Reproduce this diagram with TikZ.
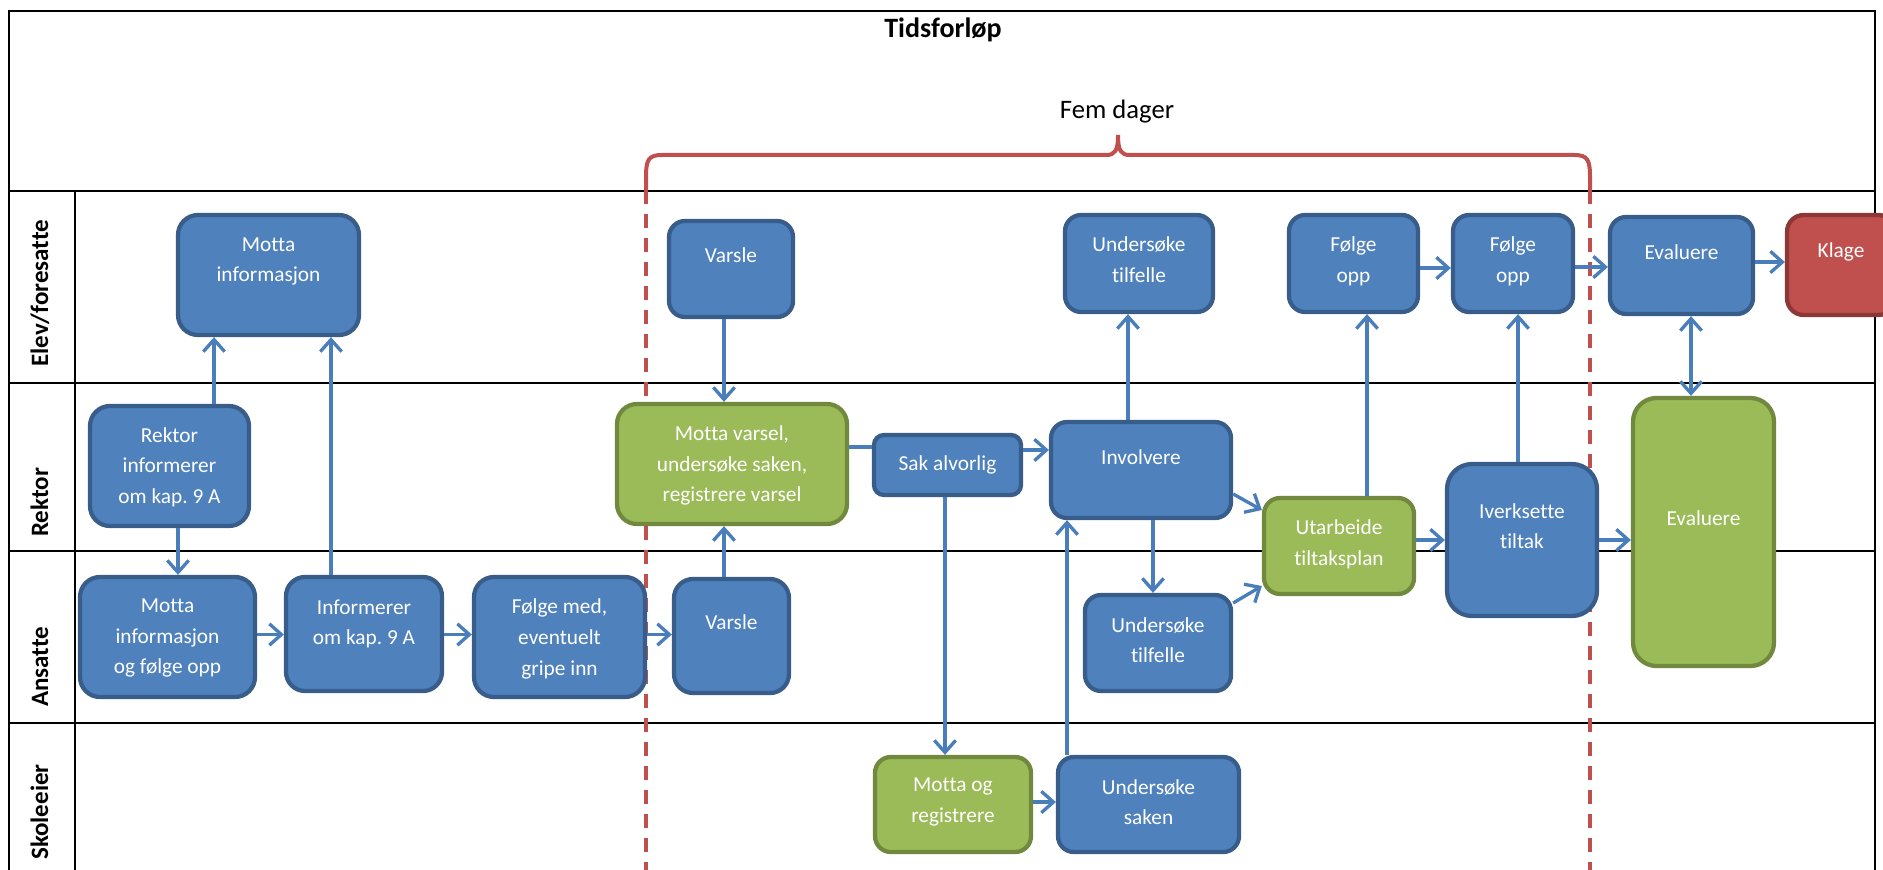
\documentclass[tikz,border=0pt]{standalone}
\usepackage{fontspec}
\setmainfont{Carlito}[Ligatures=NoCommon]
\frenchspacing
\usetikzlibrary{arrows.meta}
\definecolor{bfill}{HTML}{4F81BD}
\definecolor{bdraw}{HTML}{385D8A}
\definecolor{gfill}{HTML}{9BBB59}
\definecolor{gdraw}{HTML}{71893F}
\definecolor{rfill}{HTML}{C0504D}
\definecolor{rdraw}{HTML}{8C3836}
\definecolor{arrc}{HTML}{4A7EBB}
\definecolor{bracec}{HTML}{C0504D}
\tikzset{
  bluebox/.style={draw=bdraw, fill=bfill, line width=3.2pt, inner sep=0pt},
  greenbox/.style={draw=gdraw, fill=gfill, line width=3.2pt, inner sep=0pt},
  redbox/.style={draw=rdraw, fill=rfill, line width=3.2pt, inner sep=0pt},
  boxtxt/.style={text=white, align=center, inner sep=0pt, font=\fontsize{16}{23}\selectfont},
  conn/.style={draw=arrc, line width=2.5pt},
  arr/.style={conn, -{Straight Barb[length=9pt,width=16pt]}},
  darr/.style={conn, {Straight Barb[length=9pt,width=16pt]}-{Straight Barb[length=9pt,width=16pt]}},
  lane/.style={line width=1.8pt, draw=black},
  lanelbl/.style={rotate=90, anchor=base west, inner sep=0pt, font=\fontsize{18.75}{21}\selectfont\bfseries},
  dashline/.style={draw=bracec, line width=3pt, dash pattern=on 10.5pt off 7.5pt},
  bracestyle/.style={draw=bracec, line width=3pt},
}
\newcommand\mybox[8]{%
  \pgfmathsetmacro\mbW{(#5-#3-4)*0.75}%
  \pgfmathsetmacro\mbH{(#6-#4-4)*0.75}%
  \pgfmathsetmacro\mbX{(#3+#5)/2}%
  \pgfmathsetmacro\mbY{(#4+#6)/2}%
  \pgfmathsetmacro\mbR{min(\mbW,\mbH)/6}%
  \node[#2, minimum width=\mbW pt, minimum height=\mbH pt, rounded corners=\mbR pt] (#1) at (\mbX,\mbY) {};
  \node[boxtxt] (#1t) at (\mbX,#7) {#8};
}
\begin{document}
\begin{tikzpicture}[x=0.75pt,y=-0.75pt]
\useasboundingbox (0,0) rectangle (1883,870);
\clip (0,0) rectangle (1883,870);
% frame and lanes
\draw[lane] (9,880) -- (9,11) -- (1875,11) -- (1875,880);
\draw[lane] (9,191) -- (1875,191);
\draw[lane] (9,383) -- (1875,383);
\draw[lane] (9,551) -- (1875,551);
\draw[lane] (9,723) -- (1875,723);
\draw[lane] (75,191) -- (75,880);
% lane labels
\node[lanelbl] (l1) at (48,367) {Elev/foresatte};
\node[lanelbl] (l2) at (48,537) {Rektor};
\node[lanelbl] (l3) at (48,707) {Ansatte};
\node[lanelbl] (l4) at (48,860) {Skoleeier};
% titles
\node[font=\fontsize{21}{25}\selectfont\bfseries, anchor=base, inner sep=0pt] (title) at (943,38) {Tidsforløp};
\node[font=\fontsize{20}{24}\selectfont, anchor=base, inner sep=0pt] (fem) at (1117,119) {Fem dager};
% brace and dashed lines
\draw[dashline] (646,190) -- (646,880);
\draw[dashline] (1590,190) -- (1590,880);
\draw[bracestyle] (646,191) -- (646,178) .. controls (646,160) and (648,155) .. (662,155) -- (1106,155) .. controls (1115,155) and (1118,151) .. (1118,135) .. controls (1118,151) and (1121,155) .. (1130,155) -- (1574,155) .. controls (1588,155) and (1590,160) .. (1590,178) -- (1590,191);
% boxes
\mybox{mi}{bluebox}{176}{213}{361}{337}{261.5}{Motta\\informasjon}
\mybox{rk}{bluebox}{88}{404}{251}{528}{467}{Rektor\\informerer\\om kap. 9 A}
\mybox{mf}{bluebox}{78}{575}{257}{699}{638}{Motta\\informasjon\\og følge opp}
\mybox{ik}{bluebox}{284}{575}{444}{693}{624}{Informerer\\om kap. 9 A}
\mybox{fm}{bluebox}{472}{575}{647}{699}{639}{Følge med,\\eventuelt\\gripe inn}
\mybox{va}{bluebox}{667}{219}{795}{319}{255}{Varsle}
\mybox{mv}{greenbox}{615}{402}{849}{526}{465.5}{Motta varsel,\\undersøke saken,\\registrere varsel}
\mybox{vb}{bluebox}{672}{577}{791}{695}{622}{Varsle}
\mybox{sa}{bluebox}{872}{433}{1023}{497}{465}{Sak alvorlig}
\mybox{inv}{bluebox}{1049}{420}{1233}{520}{457}{Involvere}
\mybox{uta}{bluebox}{1063}{213}{1215}{314}{260}{Undersøke\\tilfelle}
\mybox{utb}{bluebox}{1083}{593}{1233}{693}{640}{Undersøke\\tilfelle}
\mybox{mr}{greenbox}{873}{755}{1033}{854}{802}{Motta og\\registrere}
\mybox{us}{bluebox}{1056}{755}{1241}{854}{802}{Undersøke\\saken}
\mybox{ua}{greenbox}{1262}{496}{1416}{596}{544}{Utarbeide\\tiltaksplan}
\mybox{foa}{bluebox}{1287}{213}{1420}{314}{261}{Følge\\opp}
\mybox{fob}{bluebox}{1451}{213}{1575}{314}{261}{Følge\\opp}
\mybox{iv}{bluebox}{1445}{462}{1599}{618}{526}{Iverksette\\tiltak}
\mybox{eva}{bluebox}{1608}{215}{1755}{316}{252}{Evaluere}
\mybox{kl}{redbox}{1785}{213}{1897}{317}{252}{Klage}
\mybox{evb}{greenbox}{1631}{396}{1776}{668}{518}{Evaluere}
% connectors
\draw[arr] (rk.north -| 214,0) -- (mi.south -| 214,0);
\draw[arr] (ik.north -| 331,0) -- (mi.south -| 331,0);
\draw[arr] (rk.south -| 178,0) -- (mf.north -| 178,0);
\draw[arr] (mf.east |- 0,634.5) -- (ik.west |- 0,634.5);
\draw[arr] (ik.east |- 0,634.5) -- (fm.west |- 0,634.5);
\draw[arr] (fm.east |- 0,634.5) -- (vb.west |- 0,634.5);
\draw[arr] (va.south -| 724,0) -- (mv.north -| 724,0);
\draw[arr] (vb.north -| 724,0) -- (mv.south -| 724,0);
\draw[conn] (mv.east |- 0,447) -- (sa.west |- 0,447);
\draw[arr] (sa.east |- 0,450) -- (inv.west |- 0,450);
\draw[arr] (sa.south -| 945,0) -- (mr.north -| 945,0);
\draw[arr] (mr.east |- 0,802) -- (us.west |- 0,802);
\draw[arr] (us.north -| 1067,0) -- (inv.south -| 1067,0);
\draw[arr] (inv.north -| 1128,0) -- (uta.south -| 1128,0);
\draw[arr] (inv.south -| 1153,0) -- (utb.north -| 1153,0);
\draw[arr] (inv.east |- 0,494) -- (ua.west |- 0,510);
\draw[arr] (utb.east |- 0,603) -- (ua.west |- 0,586);
\draw[arr] (ua.north -| 1367,0) -- (foa.south -| 1367,0);
\draw[arr] (iv.north -| 1518,0) -- (fob.south -| 1518,0);
\draw[arr] (foa.east |- 0,268) -- (fob.west |- 0,268);
\draw[arr] (fob.east |- 0,267) -- (eva.west |- 0,267);
\draw[arr] (eva.east |- 0,262) -- (kl.west |- 0,262);
\draw[darr] (eva.south -| 1691,0) -- (evb.north -| 1691,0);
\draw[arr] (ua.east |- 0,540) -- (iv.west |- 0,540);
\draw[arr] (iv.east |- 0,540) -- (evb.west |- 0,540);
\end{tikzpicture}
\end{document}
